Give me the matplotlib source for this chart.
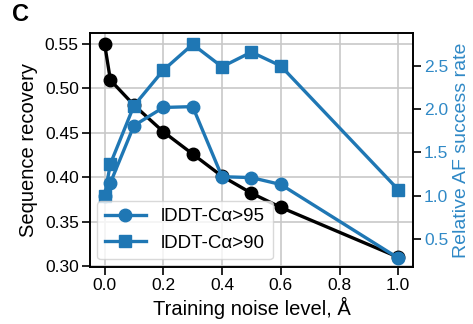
import matplotlib.pyplot as plt

noise = [0.0, 0.02, 0.1, 0.2, 0.3, 0.4, 0.5, 0.6, 1.0]
seq_recovery = [0.55, 0.509, 0.481, 0.451, 0.426, 0.401, 0.382, 0.366, 0.31]
af_rate_95 = [1.0, 1.15, 1.81, 2.02, 2.03, 1.22, 1.21, 1.13, 0.28]
af_rate_90 = [1.0, 1.37, 2.04, 2.45, 2.75, 2.49, 2.66, 2.5, 1.07]

left_ticks = [0.30, 0.35, 0.40, 0.45, 0.50, 0.55]
right_ticks = [0.5, 1.0, 1.5, 2.0, 2.5]

blue = "#1f77b4"
label_blue = "#3089c6"

plt.rcParams["font.family"] = ["Liberation Sans", "DejaVu Sans"]

fig = plt.figure(figsize=(4.73, 3.24), dpi=100)
ax = fig.add_axes([0.190, 0.176, 0.683, 0.722])

ax.plot(noise, seq_recovery, color="black", marker="o", markersize=9,
        linewidth=2.4, zorder=3)
ax.set_xlim(-0.05, 1.05)
ax.set_ylim(0.299, 0.562)
ax.set_yticks(left_ticks)
ax.set_yticklabels([f"{t:.2f}" for t in left_ticks])
ax.set_xticks([0.0, 0.2, 0.4, 0.6, 0.8, 1.0])
ax.set_xticklabels(["0.0", "0.2", "0.4", "0.6", "0.8", "1.0"])
ax.grid(True, color="#c8c8c8", linewidth=1.2)
ax.set_axisbelow(True)
ax.tick_params(labelsize=12.5, length=5.5, width=1.2, pad=2.5)
ax.set_xlabel("Training noise level, Å", fontsize=14.5, labelpad=3)
ax.set_ylabel("Sequence recovery", fontsize=14.5, labelpad=5)

ax2 = ax.twinx()
ax2.plot(noise, af_rate_95, color=blue, marker="o", markersize=9,
         linewidth=2.4, label="lDDT-Cα>95")
ax2.plot(noise, af_rate_90, color=blue, marker="s", markersize=9,
         linewidth=2.4, label="lDDT-Cα>90")
ax2.set_ylim(0.177, 2.88)
ax2.set_yticks(right_ticks)
ax2.set_yticklabels([f"{t:.1f}" for t in right_ticks])
ax2.tick_params(labelsize=12.5, length=5.5, width=1.2, pad=2.5,
                labelcolor=label_blue)
ax2.set_ylabel("Relative AF success rate", fontsize=14, color=label_blue,
               labelpad=3)

for a in (ax, ax2):
    for s in a.spines.values():
        s.set_linewidth(1.2)

ax2.legend(loc="lower left", fontsize=13.5, framealpha=0.8,
           edgecolor="#d0d0d0", handlelength=2.2, borderaxespad=0.4)

fig.text(0.025, 0.955, "C", fontsize=17, fontweight="bold", va="center")

fig.savefig("out.png", dpi=100)
